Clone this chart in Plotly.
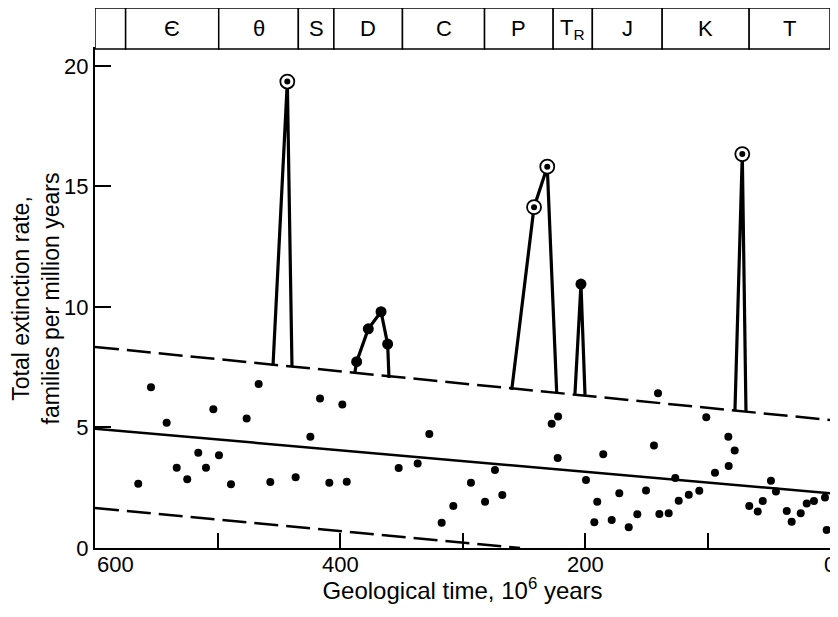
import plotly.graph_objects as go

# ---------------- data ----------------
# background extinction rates (age in 10^6 years, families per 10^6 years)
bg_age = [564.7, 554.3, 541.5, 533.3, 524.7, 515.7, 509.4, 503.4, 498.8, 489.0,
          476.2, 466.4, 456.9, 436.2, 424.2, 416.3, 408.7, 398.1, 394.5, 352.1,
          336.6, 327.1, 317.0, 307.5, 293.1, 281.6, 273.5, 267.5, 227.2, 222.0,
          222.3, 199.2, 192.4, 190.0, 185.1, 178.2, 172.0, 164.3, 157.3, 150.2,
          143.7, 140.4, 139.3, 131.7, 126.3, 123.5, 115.3, 106.7, 101.0, 93.9,
          82.7, 83.0, 77.8, 65.9, 59.0, 54.9, 48.2, 44.1, 35.3, 31.3,
          23.9, 19.0, 13.1, 4.1, 2.7]
bg_rate = [2.67, 6.67, 5.20, 3.33, 2.85, 3.95, 3.33, 5.76, 3.85, 2.64,
           5.37, 6.80, 2.74, 2.93, 4.61, 6.20, 2.71, 5.95, 2.75, 3.32,
           3.51, 4.73, 1.05, 1.74, 2.71, 1.92, 3.24, 2.20, 5.15, 5.45,
           3.73, 2.82, 1.07, 1.92, 3.89, 1.16, 2.27, 0.86, 1.40, 2.39,
           4.25, 6.42, 1.41, 1.44, 2.90, 1.96, 2.21, 2.38, 5.42, 3.12,
           3.40, 4.62, 4.04, 1.74, 1.51, 1.95, 2.79, 2.34, 1.54, 1.09,
           1.44, 1.85, 1.95, 2.10, 0.75]

# mass-extinction peaks (polylines rising from the upper confidence line)
ord_age = [454.7, 443.0, 439.2]
ord_rate = [7.55, 19.35, 7.51]
dev_age = [387.8, 386.4, 376.9, 366.5, 361.1, 360.0]
dev_rate = [7.30, 7.73, 9.09, 9.80, 8.46, 7.05]
perm_age = [259.8, 241.6, 230.8, 223.1]
perm_rate = [6.56, 14.14, 15.82, 6.44]
tri_age = [208.2, 203.3, 200.0]
tri_rate = [6.39, 10.95, 6.35]
cret_age = [77.6, 71.6, 68.6]
cret_rate = [5.68, 16.34, 5.66]

circled_age = [443.0, 241.6, 230.8, 71.6]
circled_rate = [19.35, 14.14, 15.82, 16.34]
dot_age = [386.4, 376.9, 366.5, 361.1, 203.3]
dot_rate = [7.73, 9.09, 9.80, 8.46, 10.95]

# regression line and confidence envelope
trend_age = [600, 0]
trend_mean = [4.95, 2.27]
trend_upper = [8.34, 5.31]
lower_age = [600, 253]
trend_lower = [1.66, 0.0]

# geological periods
period_labels = ["", "Є", "θ", "S", "D", "C", "P", "T<sub>R</sub>", "J", "K", "T"]
period_start = [600, 575, 499, 434, 405, 349, 282, 226, 194, 137, 66]
period_end = [575, 499, 434, 405, 349, 282, 226, 194, 137, 66, 0]

x_ticks = [600, 400, 200, 0]
x_ticklabels = ["600", "400", "200", "0"]
x_minor_ticks = [500, 300, 100]
y_ticks = [0, 5, 10, 15, 20]

# ---------------- figure ----------------
FONT = "Liberation Sans, Arial, Helvetica, sans-serif"
DASH = "24px,8px"

fig = go.Figure()

fig.add_trace(go.Scatter(x=trend_age, y=trend_upper, mode="lines",
                         line=dict(color="black", width=2.5, dash=DASH), hoverinfo="skip"))
fig.add_trace(go.Scatter(x=trend_age, y=trend_mean, mode="lines",
                         line=dict(color="black", width=2.5), hoverinfo="skip"))
fig.add_trace(go.Scatter(x=lower_age, y=trend_lower, mode="lines",
                         line=dict(color="black", width=2.5, dash=DASH), hoverinfo="skip"))

for ax_, ay_ in [(ord_age, ord_rate), (dev_age, dev_rate), (perm_age, perm_rate),
                 (tri_age, tri_rate), (cret_age, cret_rate)]:
    fig.add_trace(go.Scatter(x=ax_, y=ay_, mode="lines",
                             line=dict(color="black", width=3.2), hoverinfo="skip"))

fig.add_trace(go.Scatter(x=bg_age, y=bg_rate, mode="markers",
                         marker=dict(color="black", size=8), hoverinfo="skip"))
fig.add_trace(go.Scatter(x=dot_age, y=dot_rate, mode="markers",
                         marker=dict(color="black", size=11), hoverinfo="skip"))
fig.add_trace(go.Scatter(x=circled_age, y=circled_rate, mode="markers",
                         marker=dict(color="white", size=14,
                                     line=dict(color="black", width=1.8)), hoverinfo="skip"))
fig.add_trace(go.Scatter(x=circled_age, y=circled_rate, mode="markers",
                         marker=dict(color="black", size=6), hoverinfo="skip"))

# period band above the plot
band_y0 = 1.0
band_y1 = 1.082
shapes = []
annotations = []
for lab, s, e in zip(period_labels, period_start, period_end):
    shapes.append(dict(type="rect", xref="x", yref="paper", x0=s, x1=e,
                       y0=band_y0, y1=band_y1, line=dict(color="black", width=1.5),
                       fillcolor="white", layer="above"))
    if lab:
        annotations.append(dict(x=(s + e) / 2, y=(band_y0 + band_y1) / 2,
                                xref="x", yref="paper", text=lab, showarrow=False,
                                font=dict(family=FONT, size=22, color="black"),
                                xanchor="center", yanchor="middle"))

# x tick labels: the first one sits to the right of the axis corner, as in the original
for i, (tv, tl) in enumerate(zip(x_ticks, x_ticklabels)):
    annotations.append(dict(x=tv, y=-0.004, xref="x", yref="paper", text=tl,
                            showarrow=False, font=dict(family=FONT, size=22, color="black"),
                            xanchor="left" if i == 0 else "center", yanchor="top"))

# the page body has an 8px default margin, so the figure is sized to fit the window
fig.update_layout(
    width=828, height=596,
    margin=dict(l=87, r=6, t=41, b=56, pad=0),
    paper_bgcolor="white", plot_bgcolor="white",
    showlegend=False,
    font=dict(family=FONT, color="black", size=22),
    shapes=shapes, annotations=annotations,
    xaxis=dict(range=[600, 0], showline=True, linecolor="black", linewidth=2,
               mirror=True, ticks="inside", ticklen=15, tickwidth=1.5,
               tickcolor="black", tickvals=x_ticks, showticklabels=False,
               minor=dict(tickvals=x_minor_ticks, ticks="inside", ticklen=15,
                          tickwidth=1.5, tickcolor="black", showgrid=False),
               showgrid=False, zeroline=False, automargin=False,
               title=dict(text="Geological time, 10<sup>6</sup> years",
                          font=dict(size=24), standoff=40)),
    yaxis=dict(range=[0, 20.7], showline=True, linecolor="black", linewidth=2,
               mirror=True, ticks="inside", ticklen=16, tickwidth=1.5,
               tickcolor="black", tickvals=y_ticks, tickfont=dict(size=22),
               showgrid=False, zeroline=False, automargin=False,
               title=dict(text="Total extinction rate,<br>families per million years",
                          font=dict(size=23), standoff=12)),
)

fig.write_html("out.html")
